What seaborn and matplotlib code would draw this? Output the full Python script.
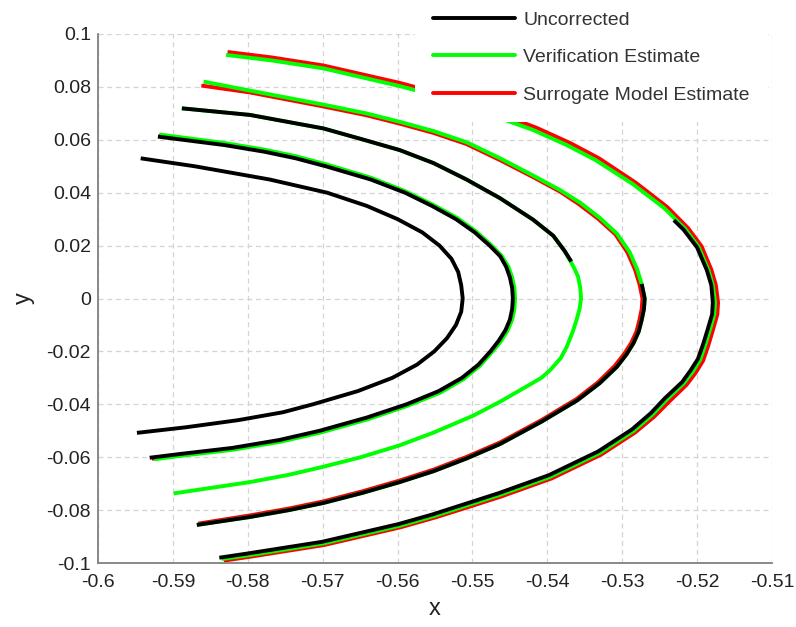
import matplotlib
matplotlib.use('Agg')
import matplotlib.pyplot as plt
import pandas as pd
import seaborn as sns
from matplotlib.lines import Line2D

# ---------------- data ----------------
series_names = ['Uncorrected', 'Verification Estimate', 'Surrogate Model Estimate']
series_colors = ['#000000', '#00ff00', '#ff0000']

x_ticks = [-0.6, -0.59, -0.58, -0.57, -0.56, -0.55, -0.54, -0.53, -0.52, -0.51]
x_tick_labels = ['-0.6', '-0.59', '-0.58', '-0.57', '-0.56', '-0.55', '-0.54', '-0.53', '-0.52', '-0.51']
y_ticks = [-0.1, -0.08, -0.06, -0.04, -0.02, 0.0, 0.02, 0.04, 0.06, 0.08, 0.1]
y_tick_labels = ['-0.1', '-0.08', '-0.06', '-0.04', '-0.02', '0', '0.02', '0.04', '0.06', '0.08', '0.1']

# arc 1 (uncorrected only)
B1_x = [-0.5943, -0.5871, -0.5771, -0.5694, -0.5641, -0.5600, -0.5567, -0.5544, -0.5528, -0.5519,
        -0.5515, -0.5513, -0.5515, -0.5522, -0.5534, -0.5551, -0.5574, -0.5607, -0.5653, -0.5713,
        -0.5753, -0.5813, -0.5883, -0.5948]
B1_y = [0.0530, 0.0500, 0.0450, 0.0400, 0.0350, 0.0300, 0.0250, 0.0200, 0.0150, 0.0100,
        0.0050, 0.0000, -0.0050, -0.0100, -0.0150, -0.0200, -0.0250, -0.0300, -0.0350, -0.0400,
        -0.0430, -0.0460, -0.0487, -0.0508]

# arc 2
B2_x = [-0.5920, -0.5831, -0.5778, -0.5736, -0.5696, -0.5636, -0.5590, -0.5554, -0.5522, -0.5497,
        -0.5477, -0.5463, -0.5455, -0.5450, -0.5447, -0.5446, -0.5447, -0.5450, -0.5456, -0.5465,
        -0.5476, -0.5492, -0.5514, -0.5545, -0.5588, -0.5641, -0.5704, -0.5758, -0.5821, -0.5891,
        -0.5931]
B2_y = [0.0612, 0.0580, 0.0555, 0.0530, 0.0500, 0.0450, 0.0400, 0.0350, 0.0300, 0.0250,
        0.0200, 0.0160, 0.0120, 0.0080, 0.0040, 0.0000, -0.0040, -0.0080, -0.0120, -0.0160,
        -0.0200, -0.0250, -0.0300, -0.0350, -0.0400, -0.0450, -0.0500, -0.0535, -0.0565, -0.0588,
        -0.0602]
G2_x = [-0.5918, -0.5831, -0.5778, -0.5736, -0.5696, -0.5636, -0.5590, -0.5553, -0.5520, -0.5495,
        -0.5475, -0.5461, -0.5452, -0.5447, -0.5444, -0.5443, -0.5444, -0.5447, -0.5453, -0.5462,
        -0.5474, -0.5490, -0.5512, -0.5543, -0.5587, -0.5640, -0.5703, -0.5757, -0.5820, -0.5890,
        -0.5925]
G2_y = [0.0620, 0.0588, 0.0563, 0.0538, 0.0508, 0.0457, 0.0406, 0.0355, 0.0304, 0.0253,
        0.0202, 0.0161, 0.0120, 0.0080, 0.0040, 0.0000, -0.0040, -0.0080, -0.0121, -0.0162,
        -0.0203, -0.0254, -0.0305, -0.0356, -0.0406, -0.0457, -0.0507, -0.0542, -0.0572, -0.0595,
        -0.0608]
R2_x = [-0.5919, -0.5831, -0.5778, -0.5736, -0.5696, -0.5636, -0.5590, -0.5554, -0.5521, -0.5496,
        -0.5476, -0.5462, -0.5454, -0.5449, -0.5446, -0.5445, -0.5446, -0.5449, -0.5455, -0.5464,
        -0.5475, -0.5491, -0.5513, -0.5544, -0.5588, -0.5641, -0.5704, -0.5758, -0.5821, -0.5891,
        -0.5928]
R2_y = [0.0616, 0.0584, 0.0559, 0.0534, 0.0504, 0.0453, 0.0403, 0.0352, 0.0302, 0.0252,
        0.0201, 0.0160, 0.0120, 0.0080, 0.0040, 0.0000, -0.0040, -0.0080, -0.0120, -0.0161,
        -0.0201, -0.0252, -0.0303, -0.0353, -0.0403, -0.0453, -0.0504, -0.0538, -0.0569, -0.0592,
        -0.0606]

# arc 3
B3_x = [-0.5888, -0.5797, -0.5751, -0.5699, -0.5645, -0.5597, -0.5552, -0.5508, -0.5463, -0.5419,
        -0.5392, -0.5377, -0.5368]
B3_y = [0.0719, 0.0694, 0.0670, 0.0643, 0.0600, 0.0561, 0.0512, 0.0450, 0.0379, 0.0298,
        0.0237, 0.0180, 0.0140]
G3_x = [-0.5888, -0.5797, -0.5751, -0.5699, -0.5645, -0.5597, -0.5552, -0.5508, -0.5463, -0.5419,
        -0.5392, -0.5377, -0.5365, -0.5359, -0.5356, -0.5355, -0.5357, -0.5361, -0.5366, -0.5374,
        -0.5382, -0.5396, -0.5408, -0.5428, -0.5463, -0.5499, -0.5552, -0.5597, -0.5649, -0.5699,
        -0.5746, -0.5797, -0.5899]
G3_y = [0.0719, 0.0694, 0.0670, 0.0643, 0.0600, 0.0561, 0.0512, 0.0450, 0.0379, 0.0298,
        0.0237, 0.0180, 0.0120, 0.0083, 0.0040, 0.0000, -0.0040, -0.0081, -0.0125, -0.0182,
        -0.0225, -0.0270, -0.0300, -0.0333, -0.0390, -0.0443, -0.0507, -0.0555, -0.0600, -0.0636,
        -0.0667, -0.0694, -0.0737]

# arc 4
G4_x = [-0.5859, -0.5797, -0.5699, -0.5642, -0.5597, -0.5552, -0.5508, -0.5463, -0.5419, -0.5383,
        -0.5356, -0.5330, -0.5307, -0.5290, -0.5280, -0.5274, -0.5270, -0.5271, -0.5274, -0.5278,
        -0.5285, -0.5294, -0.5307, -0.5330, -0.5360, -0.5408, -0.5463, -0.5508, -0.5552, -0.5597,
        -0.5647, -0.5699, -0.5745, -0.5797, -0.5868]
G4_y = [0.0820, 0.0786, 0.0733, 0.0700, 0.0668, 0.0633, 0.0591, 0.0530, 0.0465, 0.0410,
        0.0362, 0.0305, 0.0245, 0.0175, 0.0110, 0.0055, 0.0000, -0.0040, -0.0081, -0.0125,
        -0.0169, -0.0210, -0.0258, -0.0320, -0.0385, -0.0466, -0.0550, -0.0605, -0.0653, -0.0694,
        -0.0735, -0.0773, -0.0800, -0.0826, -0.0856]
R4_x = [-0.5862, -0.5797, -0.5699, -0.5642, -0.5597, -0.5552, -0.5508, -0.5463, -0.5419, -0.5383,
        -0.5358, -0.5332, -0.5309, -0.5293, -0.5283, -0.5277, -0.5273, -0.5274, -0.5277, -0.5281,
        -0.5288, -0.5297, -0.5310, -0.5332, -0.5361, -0.5408, -0.5463, -0.5508, -0.5552, -0.5597,
        -0.5647, -0.5699, -0.5745, -0.5797, -0.5866]
R4_y = [0.0805, 0.0779, 0.0726, 0.0693, 0.0661, 0.0626, 0.0584, 0.0523, 0.0459, 0.0404,
        0.0357, 0.0301, 0.0242, 0.0174, 0.0110, 0.0055, 0.0000, -0.0040, -0.0081, -0.0125,
        -0.0168, -0.0208, -0.0255, -0.0316, -0.0380, -0.0460, -0.0544, -0.0599, -0.0647, -0.0688,
        -0.0729, -0.0767, -0.0794, -0.0820, -0.0851]
B4_x = [-0.5274, -0.5270, -0.5271, -0.5274, -0.5278, -0.5285, -0.5294, -0.5307, -0.5330, -0.5360,
        -0.5408, -0.5463, -0.5508, -0.5552, -0.5597, -0.5647, -0.5699, -0.5745, -0.5797, -0.5868]
B4_y = [0.0055, 0.0000, -0.0040, -0.0081, -0.0125, -0.0169, -0.0210, -0.0258, -0.0320, -0.0385,
        -0.0466, -0.0550, -0.0605, -0.0653, -0.0694, -0.0735, -0.0773, -0.0800, -0.0826, -0.0856]

# arc 5
G5_x = [-0.5829, -0.5768, -0.5699, -0.5597, -0.5577, -0.5522, -0.5467, -0.5419, -0.5374, -0.5336,
        -0.5286, -0.5244, -0.5216, -0.5198, -0.5185, -0.5179, -0.5176, -0.5177, -0.5183, -0.5189,
        -0.5196, -0.5206, -0.5218, -0.5241, -0.5260, -0.5285, -0.5330, -0.5396, -0.5463, -0.5508,
        -0.5552, -0.5597, -0.5699, -0.5797, -0.5835]
G5_y = [0.0921, 0.0900, 0.0870, 0.0803, 0.0788, 0.0740, 0.0686, 0.0637, 0.0580, 0.0524,
        0.0433, 0.0342, 0.0263, 0.0195, 0.0108, 0.0051, -0.0015, -0.0060, -0.0119, -0.0175,
        -0.0232, -0.0277, -0.0321, -0.0383, -0.0440, -0.0501, -0.0584, -0.0674, -0.0742, -0.0783,
        -0.0823, -0.0859, -0.0926, -0.0970, -0.0985]
R5_x = [-0.5827, -0.5767, -0.5699, -0.5597, -0.5577, -0.5520, -0.5460, -0.5414, -0.5369, -0.5331,
        -0.5282, -0.5240, -0.5212, -0.5194, -0.5181, -0.5175, -0.5172, -0.5173, -0.5179, -0.5185,
        -0.5192, -0.5202, -0.5214, -0.5237, -0.5257, -0.5283, -0.5328, -0.5394, -0.5461, -0.5506,
        -0.5551, -0.5596, -0.5698, -0.5796, -0.5832]
R5_y = [0.0932, 0.0911, 0.0881, 0.0815, 0.0800, 0.0750, 0.0694, 0.0645, 0.0587, 0.0530,
        0.0438, 0.0346, 0.0266, 0.0197, 0.0109, 0.0051, -0.0015, -0.0060, -0.0120, -0.0177,
        -0.0235, -0.0281, -0.0326, -0.0389, -0.0446, -0.0507, -0.0590, -0.0680, -0.0748, -0.0789,
        -0.0829, -0.0865, -0.0932, -0.0976, -0.0991]
B5_x = [-0.5231, -0.5218, -0.5200, -0.5187, -0.5181, -0.5179, -0.5180, -0.5186, -0.5192, -0.5199,
        -0.5209, -0.5220, -0.5243, -0.5262, -0.5287, -0.5332, -0.5398, -0.5465, -0.5510, -0.5554,
        -0.5599, -0.5701, -0.5800, -0.5838]
B5_y = [0.0296, 0.0260, 0.0193, 0.0107, 0.0050, -0.0015, -0.0060, -0.0118, -0.0173, -0.0229,
        -0.0273, -0.0316, -0.0377, -0.0434, -0.0495, -0.0578, -0.0668, -0.0736, -0.0777, -0.0817,
        -0.0853, -0.0920, -0.0964, -0.0980]

# ---------------- plotting ----------------
sns.set_style('white')
plt.rcParams['font.family'] = ['Liberation Sans', 'DejaVu Sans']
plt.rcParams['axes.unicode_minus'] = False

W, H = 796, 627
fig = plt.figure(figsize=(W / 100, H / 100), dpi=100)
ax = fig.add_axes([98 / W, 1 - 563 / H, (772 - 98) / W, (563 - 34) / H])

color_of = dict(zip(series_names, series_colors))
z_of = {'Surrogate Model Estimate': 2, 'Verification Estimate': 3, 'Uncorrected': 4}

curves = [
    ('Surrogate Model Estimate', R2_x, R2_y), ('Surrogate Model Estimate', R4_x, R4_y),
    ('Surrogate Model Estimate', R5_x, R5_y),
    ('Verification Estimate', G2_x, G2_y), ('Verification Estimate', G3_x, G3_y),
    ('Verification Estimate', G4_x, G4_y), ('Verification Estimate', G5_x, G5_y),
    ('Uncorrected', B1_x, B1_y), ('Uncorrected', B2_x, B2_y), ('Uncorrected', B3_x, B3_y),
    ('Uncorrected', B4_x, B4_y), ('Uncorrected', B5_x, B5_y),
]
LW = 2.8
for name, xs, ys in curves:
    df = pd.DataFrame({'x': xs, 'y': ys})
    sns.lineplot(data=df, x='x', y='y', sort=False, estimator=None, color=color_of[name],
                 linewidth=LW, ax=ax, zorder=z_of[name], legend=False,
                 solid_capstyle='butt', solid_joinstyle='round')

ax.set_xlim(-0.6, -0.51)
ax.set_ylim(-0.1, 0.1)
ax.set_xticks(x_ticks)
ax.set_xticklabels(x_tick_labels)
ax.set_yticks(y_ticks)
ax.set_yticklabels(y_tick_labels)

ax.grid(True, color='#d4d4d4', linestyle=(0, (4, 3)), linewidth=0.9)
ax.set_axisbelow(True)
for s in ['top', 'right']:
    ax.spines[s].set_visible(False)
for s in ['left', 'bottom']:
    ax.spines[s].set_color('#808080')
    ax.spines[s].set_linewidth(1.3)
ax.tick_params(direction='in', length=4, width=1, color='#808080', labelsize=14,
               labelcolor='#222222', pad=5)
ax.tick_params(axis='x', pad=8)

ax.set_xlabel('x', fontsize=17, color='#222222', labelpad=5)
ax.set_ylabel('y', fontsize=17, color='#222222', labelpad=8)

handles = [Line2D([0], [0], color=c, lw=LW) for c in series_colors]
leg = fig.legend(handles, series_names, loc='upper left', bbox_to_anchor=(415 / W, 1.011),
                 frameon=True, facecolor='white', edgecolor='none', framealpha=1,
                 fancybox=False, fontsize=14, handlelength=4.2, handletextpad=0.45,
                 labelspacing=1.02, borderpad=0.93, borderaxespad=0)
for t in leg.get_texts():
    t.set_color('#333333')

fig.savefig('out.png', dpi=100)
